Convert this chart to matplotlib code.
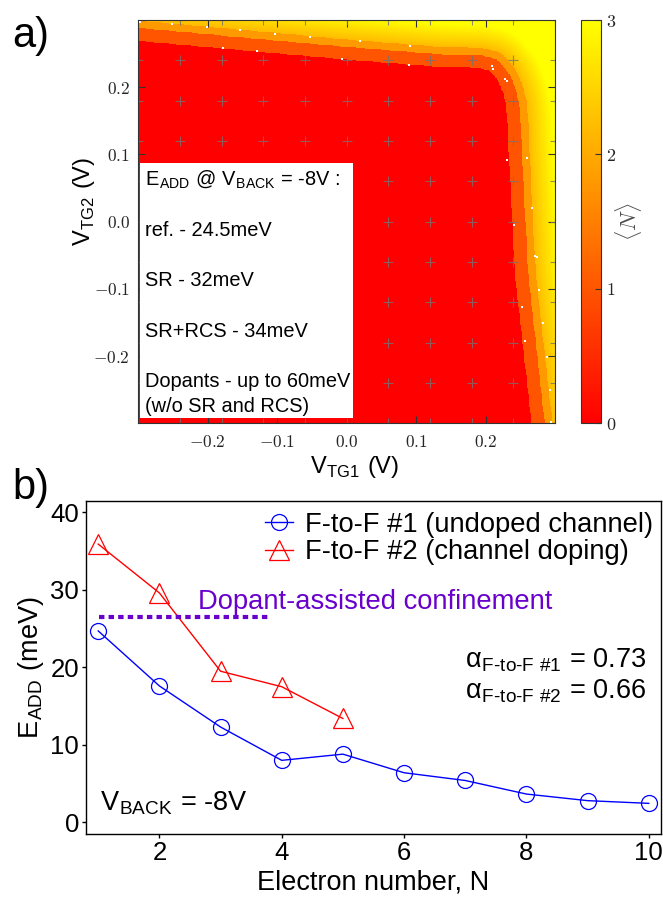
import numpy as np
import matplotlib
matplotlib.use('Agg')
import matplotlib.pyplot as plt
from matplotlib.path import Path
from matplotlib.patches import Rectangle

plt.rcParams['font.family'] = ['Liberation Sans', 'DejaVu Sans']
plt.rcParams['mathtext.fontset'] = 'cm'

# ---- panel a): <N> map, boundaries (V)
edge_x = [-0.34, -0.30, 0.00, 0.134, 0.192, 0.2064, 0.2184, 0.2256, 0.2294, 0.2315, 0.2328, 0.2425, 0.2665, 0.271]
edge_y = [0.272, 0.268, 0.240, 0.229, 0.2275, 0.2237, 0.2088, 0.1914, 0.1740, 0.1542, 0.1244, -0.0765, -0.300, -0.34]
band_dist = [0.0, 0.019, 0.030, 0.065]    # distance from N=0 edge where <N> changes
band_level = [0.0, 1.0, 1.8, 2.2, 3.0]
dot_x = [-0.2976, -0.2519, -0.2015, -0.1536, -0.1032, -0.0528, 0.0192, 0.0912, -0.1785, -0.1295,
         -0.0067, 0.0893, 0.2089, 0.2112, 0.2280, 0.2305, 0.2313, 0.2593, 0.2665, 0.2405,
         0.2712, 0.2737, 0.2774, 0.2520, 0.2831, 0.2568, 0.2880, 0.2928, 0.2942]
dot_y = [0.2966, 0.2940, 0.2900, 0.2851, 0.2792, 0.2752, 0.2688, 0.2613, 0.2588, 0.2543,
         0.2420, 0.2331, 0.2311, 0.2276, 0.2122, 0.2097, 0.0917, 0.0943, 0.0208, -0.0050,
         -0.0511, -0.0530, -0.1017, -0.1274, -0.1512, -0.1771, -0.2009, -0.2504, -0.2976]
sample_v = [-0.30, -0.24, -0.18, -0.12, -0.06, 0.0, 0.06, 0.12, 0.18, 0.24, 0.30]
tick_v = [-0.2, -0.1, 0.0, 0.1, 0.2]
tick_lbl = ['$-0.2$', '$-0.1$', '$0.0$', '$0.1$', '$0.2$']
cbar_ticks = [0, 1, 2, 3]
box_text = ('E$_\\mathregular{ADD}$ @ V$_\\mathregular{BACK}$ = -8V :\n\nref. - 24.5meV\n\n'
            'SR - 32meV\n\nSR+RCS - 34meV\n\nDopants - up to 60meV\n(w/o SR and RCS)')

# ---- panel b): addition energy vs electron number
n_e = [1, 2, 3, 4, 5, 6, 7, 8, 9, 10]
eadd_1 = [24.7, 17.6, 12.3, 8.0, 8.8, 6.4, 5.4, 3.65, 2.8, 2.45]
eadd_2 = [35.9, 29.6, 19.5, 17.5, 13.4]
dopant_level = 26.45
dopant_span = [1.02, 3.83]
purple = '#6a00cc'


def seg_dist(px, py, xs, ys):
    d = np.full(px.shape, np.inf)
    for x0, y0, x1, y1 in zip(xs[:-1], ys[:-1], xs[1:], ys[1:]):
        dx, dy = x1 - x0, y1 - y0
        t = np.clip(((px - x0) * dx + (py - y0) * dy) / (dx * dx + dy * dy), 0, 1)
        d = np.minimum(d, np.hypot(px - x0 - t * dx, py - y0 - t * dy))
    return d


fig = plt.figure(figsize=(6.63, 8.98), dpi=100)
ax = fig.add_axes([0.2086, 0.5286, 0.6285, 0.4491])
cax = fig.add_axes([0.8763, 0.5286, 0.0302, 0.4491])
bx = fig.add_axes([0.1297, 0.0713, 0.8673, 0.3711])

# build the map
g = np.linspace(-0.3, 0.3, 600)
X, Y = np.meshgrid(g, g)
poly = Path(np.column_stack([edge_x + [-0.34], edge_y + [-0.34]]))
inside = poly.contains_points(np.column_stack([X.ravel(), Y.ravel()])).reshape(X.shape)
d = seg_dist(X, Y, edge_x, edge_y)
N = np.where(d < band_dist[1], band_level[1], band_level[2])
ramp = band_level[3] + (band_level[4] - band_level[3]) * np.clip(
    (d - band_dist[2]) / (band_dist[3] - band_dist[2]), 0, 1)
N = np.where(d >= band_dist[2], ramp, N)
N[inside] = band_level[0]

im = ax.imshow(N, origin='lower', extent=(-0.3, 0.3, -0.3, 0.3), cmap='autumn',
               vmin=0, vmax=3, aspect='auto', interpolation='nearest')
sx, sy = np.meshgrid(sample_v, sample_v)
ax.plot(sx.ravel(), sy.ravel(), '+', color='0.45', ms=7, mew=0.8, alpha=0.8, zorder=2)
ax.plot(dot_x, dot_y, 's', color='white', ms=1.6, mew=0, zorder=3)
ax.add_patch(Rectangle((0.004, 0.014), 0.511, 0.631, transform=ax.transAxes,
                       fc='white', ec='none', zorder=4))
ax.text(0.016, 0.633, box_text, transform=ax.transAxes, fontsize=14.4, linespacing=1.41,
        va='top', ha='left', zorder=5)
ax.set_xlim(-0.3, 0.3)
ax.set_ylim(-0.3, 0.3)
ax.set_xticks(tick_v)
ax.set_xticklabels(tick_lbl)
ax.set_yticks(tick_v)
ax.set_yticklabels(tick_lbl)
ax.tick_params(direction='in', top=True, right=True, length=5, width=0.8, color='0.2',
               labelsize=12.5, labelcolor='0.15')
ax.tick_params(axis='x', pad=8)
ax.tick_params(axis='y', pad=6)
for s in ax.spines.values():
    s.set_color('0.2')
    s.set_linewidth(0.8)
ax.set_xlabel('V$_\\mathregular{TG1}$ (V)', fontsize=17)
ax.xaxis.set_label_coords(0.52, -0.075)
ax.set_ylabel('V$_\\mathregular{TG2}$ (V)', fontsize=17)
ax.yaxis.set_label_coords(-0.099, 0.55)

cb = fig.colorbar(im, cax=cax, ticks=cbar_ticks)
cb.ax.set_yticklabels(['$%d$' % t for t in cbar_ticks])
cb.ax.tick_params(direction='in', length=4, width=0.8, color='0.2', labelsize=13, labelcolor='0.15')
cb.outline.set_edgecolor('0.2')
cb.outline.set_linewidth(0.8)
cb.set_label(r'$\langle N\rangle$', fontsize=16, color='0.3', labelpad=-2)

# panel b
bx.plot(n_e, eadd_1, '-o', color='blue', mfc='none', mec='blue', ms=11.5, mew=0.9, lw=1,
        label='F-to-F #1 (undoped channel)')
bx.plot(n_e[:len(eadd_2)], eadd_2, '-^', color='red', mfc='none', mec='red', ms=15, mew=0.9,
        lw=1, label='F-to-F #2 (channel doping)')
bx.plot(dopant_span, [dopant_level] * 2, color=purple, lw=3, dashes=(1.3, 1.0))
bx.text(2.63, 27.5, 'Dopant-assisted confinement', color=purple, fontsize=19.7)
bx.text(9.97, 20.0, 'α$_\\mathregular{F\u2010to\u2010F\\ \\#1}$ = 0.73', fontsize=19.5, ha='right')
bx.text(9.97, 16.0, 'α$_\\mathregular{F\u2010to\u2010F\\ \\#2}$ = 0.66', fontsize=19.5, ha='right')
bx.text(1.03, 1.6, 'V$_\\mathregular{BACK}$ = -8V', fontsize=19.5)
bx.legend(loc='upper left', bbox_to_anchor=(0.311, 0.966), frameon=False, fontsize=19.7,
          numpoints=1, handlelength=1.02, handletextpad=0.44, labelspacing=0.05,
          borderpad=0, borderaxespad=0)
bx.set_xlim(0.8, 10.2)
bx.set_ylim(-1.5, 41.5)
bx.set_xticks([2, 4, 6, 8, 10])
bx.set_yticks([0, 10, 20, 30, 40])
bx.tick_params(direction='out', length=3, width=1, labelsize=18.5, pad=2, top=False, right=False)
for s in bx.spines.values():
    s.set_linewidth(1.0)
bx.set_xlabel('Electron number, N', fontsize=19.5, labelpad=3)
bx.set_ylabel('E$_\\mathregular{ADD}$ (meV)', fontsize=19.5, labelpad=3)

fig.text(12 / 663, 1 - 16 / 898, 'a)', fontsize=30, va='top', ha='left')
fig.text(12 / 663, 1 - 468 / 898, 'b)', fontsize=30, va='top', ha='left')

fig.savefig('out.png', dpi=100)
